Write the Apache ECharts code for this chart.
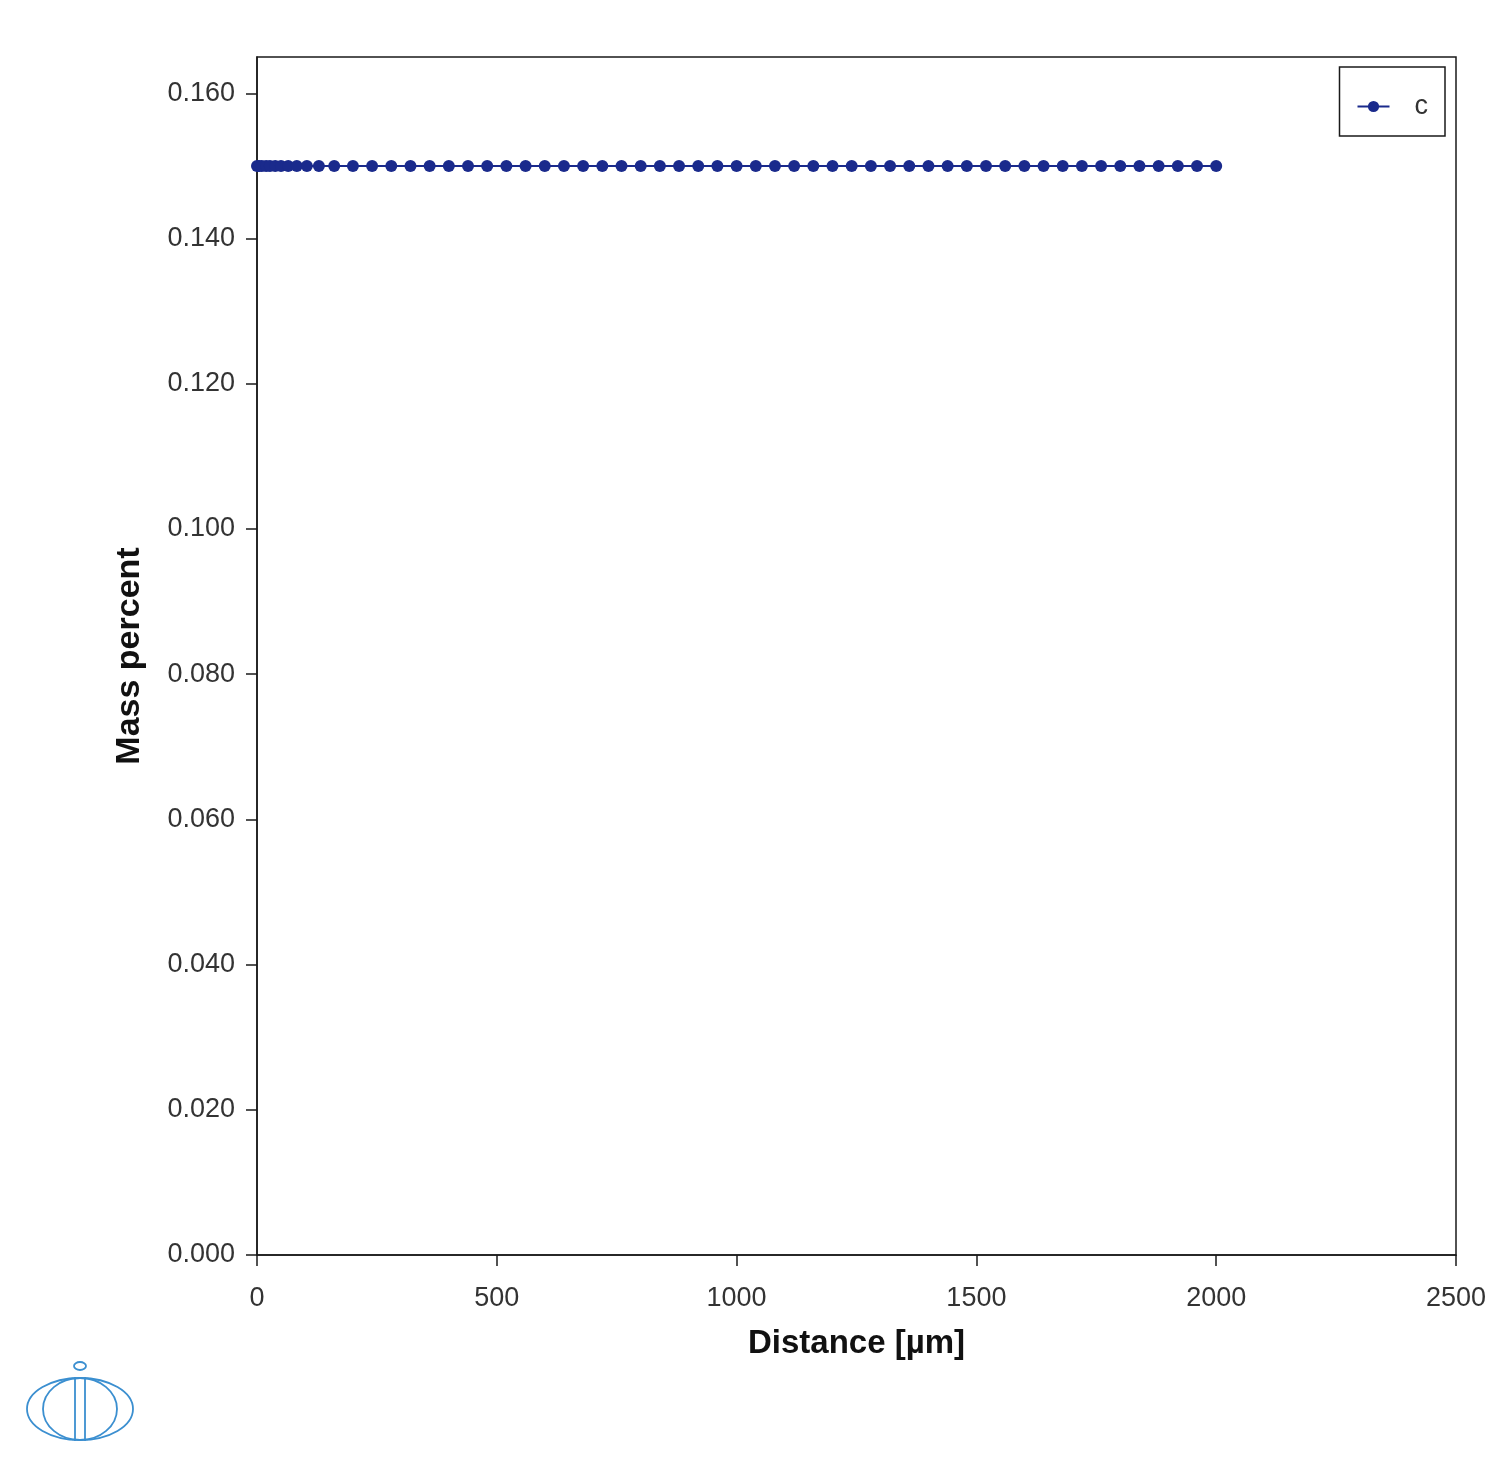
<!DOCTYPE html>
<html>
<head>
<meta charset="utf-8">
<script src="https://cdn.jsdelivr.net/npm/echarts@6/dist/echarts.min.js"></script>
<style>html,body{margin:0;padding:0;background:#fff}#c{width:1508px;height:1470px}</style>
</head>
<body>
<div id="c"></div>
<script>
// Data
const seriesName = 'c';
const distance = [0, 4, 10, 19, 27, 38, 50, 65, 83, 104, 129, 161, 200,
  240, 280, 320, 360, 400, 440, 480, 520, 560, 600, 640, 680, 720, 760, 800,
  840, 880, 920, 960, 1000, 1040, 1080, 1120, 1160, 1200, 1240, 1280, 1320,
  1360, 1400, 1440, 1480, 1520, 1560, 1600, 1640, 1680, 1720, 1760, 1800,
  1840, 1880, 1920, 1960, 2000];
const massPercent = distance.map(() => 0.15);
const yTicks = [0, 0.02, 0.04, 0.06, 0.08, 0.10, 0.12, 0.14, 0.16];
const xTicks = [0, 500, 1000, 1500, 2000, 2500];

const chart = echarts.init(document.getElementById('c'));
const font = '"Liberation Sans", Arial, sans-serif';
const axisCol = '#1a1a1a';
const logoCol = '#3b8fd0';
chart.setOption({
  backgroundColor: '#fff',
  animation: false,
  grid: {left: 257, right: 52, top: 57, bottom: 215, show: true, borderColor: axisCol, borderWidth: 1.5, containLabel: false},
  xAxis: {
    type: 'value', min: 0, max: 2500, interval: 500,
    name: 'Distance [µm]', nameLocation: 'middle', nameGap: 72,
    nameTextStyle: {fontFamily: font, fontSize: 33, fontWeight: 'bold', color: '#111'},
    axisLine: {show: true, onZero: false, lineStyle: {color: axisCol, width: 1.5}},
    axisTick: {show: true, inside: false, length: 11, lineStyle: {color: axisCol, width: 1.5}, customValues: xTicks},
    axisLabel: {fontFamily: font, fontSize: 27, color: '#333', margin: 30, customValues: xTicks,
      formatter: v => String(v)},
    splitLine: {show: false}
  },
  yAxis: {
    type: 'value', min: 0, max: 0.165,
    name: 'Mass percent', nameLocation: 'middle', nameGap: 110,
    nameTextStyle: {fontFamily: font, fontSize: 34, fontWeight: 'bold', color: '#111'},
    axisLine: {show: true, onZero: false, lineStyle: {color: axisCol, width: 1.5}},
    axisTick: {show: true, inside: false, length: 11, lineStyle: {color: axisCol, width: 1.5}, customValues: yTicks},
    axisLabel: {fontFamily: font, fontSize: 27, color: '#333', margin: 22, customValues: yTicks,
      formatter: v => v.toFixed(3)},
    splitLine: {show: false}
  },
  legend: {
    right: 63, top: 67, orient: 'vertical',
    backgroundColor: '#fff', borderColor: axisCol, borderWidth: 1.5,
    padding: [26, 17, 16, 17], itemWidth: 32, itemHeight: 14,
    textStyle: {fontFamily: font, fontSize: 27, color: '#333', padding: [0, 0, 0, 20]},
    data: [seriesName]
  },
  series: [{
    name: seriesName, type: 'line',
    data: distance.map((d, i) => [d, massPercent[i]]),
    symbol: 'circle', symbolSize: 12, showSymbol: true,
    color: '#1a2a8c',
    lineStyle: {color: '#1a2a8c', width: 2},
    itemStyle: {color: '#1a2a8c'}
  }],
  graphic: [
    {type: 'ellipse', shape: {cx: 80, cy: 1409, rx: 53, ry: 31}, style: {fill: 'none', stroke: logoCol, lineWidth: 1.8}},
    {type: 'ellipse', shape: {cx: 80, cy: 1409, rx: 37, ry: 31}, style: {fill: 'none', stroke: logoCol, lineWidth: 1.8}},
    {type: 'line', shape: {x1: 75, y1: 1377, x2: 75, y2: 1441}, style: {stroke: logoCol, lineWidth: 1.8}},
    {type: 'line', shape: {x1: 85, y1: 1377, x2: 85, y2: 1441}, style: {stroke: logoCol, lineWidth: 1.8}},
    {type: 'ellipse', shape: {cx: 80, cy: 1366, rx: 6, ry: 4}, style: {fill: 'none', stroke: logoCol, lineWidth: 1.8}}
  ]
});
</script>
</body>
</html>
